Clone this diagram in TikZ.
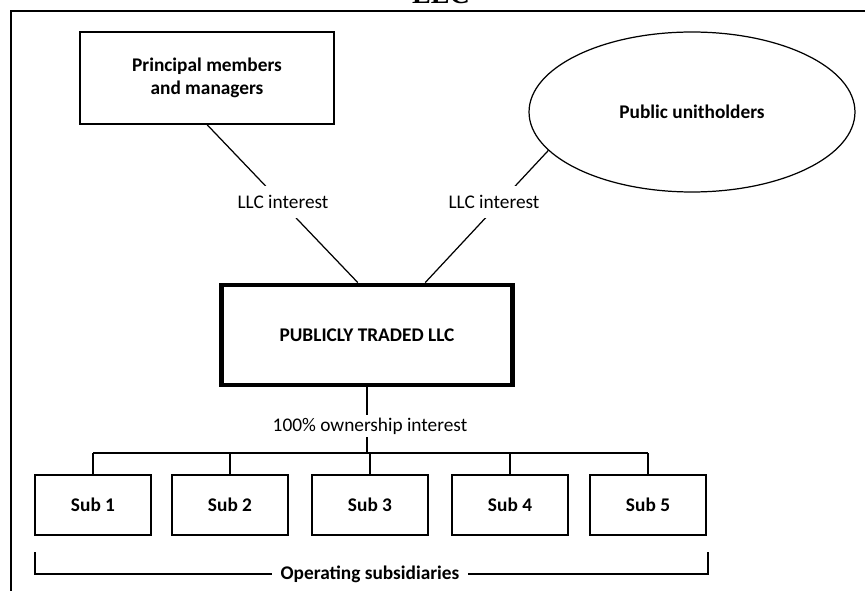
\documentclass[tikz,border=0pt]{standalone}
\usepackage{fontspec}
\setmainfont{Carlito}
\newfontfamily\titlefont{Liberation Serif}
\usetikzlibrary{shapes.geometric}

\tikzset{
  box/.style={draw, line width=0.7pt, minimum width=2.32cm, minimum height=1.2cm,
    font=\bfseries\fontsize{11}{13}\selectfont},
  lbl/.style={fill=white, inner xsep=2pt, inner ysep=5.5pt,
    font=\fontsize{11}{13}\selectfont},
}

\begin{document}
\begin{tikzpicture}[x=0.02cm, y=-0.02cm, line width=0.7pt]
\useasboundingbox (0,0) rectangle (865,591);
% title, mostly cut off at the top
\node[anchor=base, inner sep=0pt, font=\titlefont\bfseries\fontsize{16}{18}\selectfont] (title) at (441,4) {LLC};
\draw[line width=1.1pt] (11,591) -- (11,11) -- (865,11);

% owners
\node[box, minimum width=5.08cm, minimum height=1.84cm, align=center] (members) at (207,78)
  {Principal members\\and managers};
\node[draw, ellipse, line width=0.7pt, minimum width=6.52cm, minimum height=3.2cm,
  font=\bfseries\fontsize{11}{13}\selectfont] (public) at (692,112) {Public unitholders};

% the LLC
\node[box, line width=2.8pt, minimum width=5.82cm, minimum height=2.0cm] (llc) at (367,335)
  {PUBLICLY TRADED LLC};

\draw (members.south) -- (llc.100);
\draw (public.195) -- (llc.42);
\node[lbl] (int1) at (283,202) {LLC interest};
\node[lbl] (int2) at (494,202) {LLC interest};

% subsidiaries
\foreach \i/\x in {1/93,2/230,3/370,4/510,5/648}
  \node[box] (sub\i) at (\x,505) {Sub \i};

\coordinate (bus) at (370,453);
\draw (llc.south) -- (llc.south |- bus);
\draw (sub1.north |- bus) -- (sub5.north |- bus);
\foreach \i in {1,...,5}
  \draw (sub\i.north) -- (sub\i.north |- bus);
\node[lbl, inner ysep=1.5pt] (own) at (370,426) {100\% ownership interest};

% bracket
\coordinate (b1) at (35,552);
\coordinate (b2) at (708,552);
\draw (b1) -- (b1 |- 0,574) -- (b2 |- 0,574) -- (b2);
\node[lbl, inner xsep=5pt, inner ysep=1pt, font=\bfseries\fontsize{11}{13}\selectfont] (ops) at (370,574)
  {Operating subsidiaries};
\end{tikzpicture}
\end{document}
